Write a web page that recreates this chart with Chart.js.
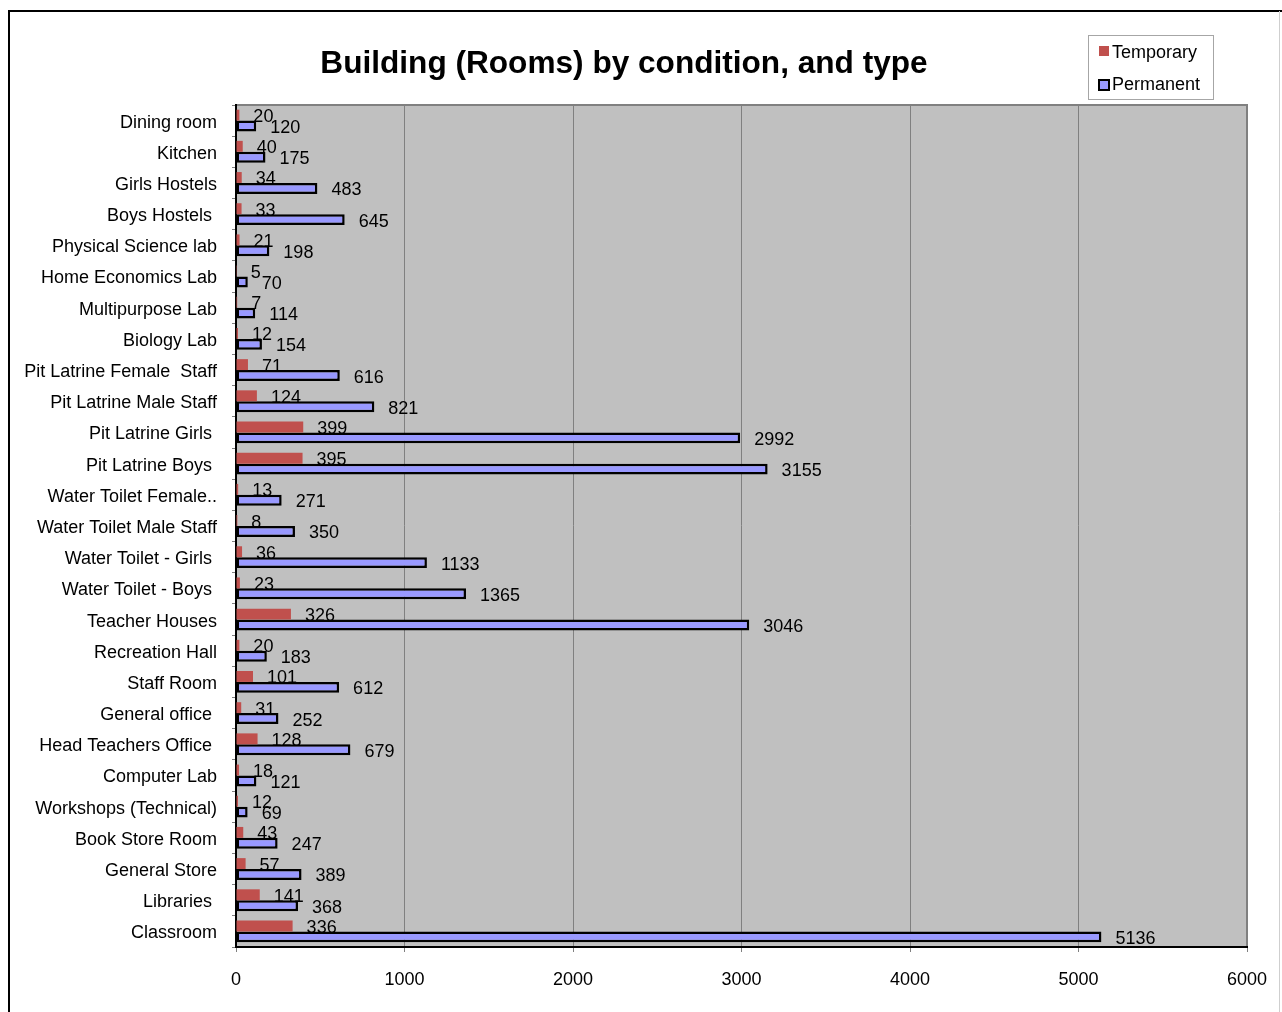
<!DOCTYPE html>
<html>
<head>
<meta charset="utf-8">
<script src="https://cdn.jsdelivr.net/npm/chart.js@4/dist/chart.umd.min.js"></script>
<style>
  body { margin: 0; background: #fff; }
  canvas { display: block; }
</style>
</head>
<body>
<canvas id="rooms-chart" width="1282" height="1012"></canvas>
<script>
const rooms = [
    'Dining room', 'Kitchen', 'Girls Hostels', 'Boys Hostels ', 'Physical Science lab',
    'Home Economics Lab', 'Multipurpose Lab', 'Biology Lab', 'Pit Latrine Female  Staff',
    'Pit Latrine Male Staff', 'Pit Latrine Girls ', 'Pit Latrine Boys ', 'Water Toilet Female..',
    'Water Toilet Male Staff', 'Water Toilet - Girls ', 'Water Toilet - Boys ', 'Teacher Houses',
    'Recreation Hall', 'Staff Room', 'General office ', 'Head Teachers Office ', 'Computer Lab',
    'Workshops (Technical)', 'Book Store Room', 'General Store', 'Libraries ', 'Classroom'
];
const temporary = [20, 40, 34, 33, 21, 5, 7, 12, 71, 124, 399, 395, 13, 8, 36, 23, 326, 20, 101, 31, 128, 18, 12, 43, 57, 141, 336];
const permanent = [120, 175, 483, 645, 198, 70, 114, 154, 616, 821, 2992, 3155, 271, 350, 1133, 1365, 3046, 183, 612, 252, 679, 121, 69, 247, 389, 368, 5136];
const xTicks = [0, 1000, 2000, 3000, 4000, 5000, 6000];

const FONT = '"Liberation Sans", Arial, sans-serif';

// grey plot area with its grey top/right frame, plus the outer chart frame
const frame = {
    id: 'frame',
    beforeDraw(chart) {
        const { ctx, chartArea: a } = chart;
        ctx.save();
        ctx.fillStyle = '#c0c0c0';
        ctx.fillRect(a.left, a.top, a.right - a.left, a.bottom - a.top);
        ctx.strokeStyle = '#808080';
        ctx.lineWidth = 2;
        ctx.beginPath();
        ctx.moveTo(a.left, a.top);
        ctx.lineTo(a.right, a.top);
        ctx.lineTo(a.right, a.bottom);
        ctx.stroke();
        ctx.strokeStyle = '#000';
        ctx.beginPath();
        ctx.moveTo(9, chart.height);
        ctx.lineTo(9, 11);
        ctx.lineTo(chart.width, 11);
        ctx.stroke();
        ctx.strokeStyle = '#cfcfcf';
        ctx.lineWidth = 1;
        ctx.beginPath();
        ctx.moveTo(1279.5, 11);
        ctx.lineTo(1279.5, chart.height);
        ctx.stroke();
        ctx.restore();
    }
};

// value labels just past the end of each bar
const barValues = {
    id: 'barValues',
    afterDatasetsDraw(chart) {
        const { ctx } = chart;
        ctx.save();
        ctx.font = '18px ' + FONT;
        ctx.fillStyle = '#000';
        ctx.textAlign = 'left';
        ctx.textBaseline = 'middle';
        chart.data.datasets.forEach((ds, i) => {
            chart.getDatasetMeta(i).data.forEach((bar, j) => {
                ctx.fillText(String(ds.data[j]), bar.x + 14, bar.y + 2);
            });
        });
        ctx.restore();
    }
};

// title and boxed legend in the top area
const header = {
    id: 'header',
    afterDraw(chart) {
        const { ctx } = chart;
        ctx.save();
        ctx.fillStyle = '#000';
        ctx.font = 'bold 31.6px ' + FONT;
        ctx.textAlign = 'center';
        ctx.textBaseline = 'middle';
        ctx.fillText('Building (Rooms) by condition, and type', 624, 64);

        ctx.fillStyle = '#fff';
        ctx.fillRect(1088, 35, 125, 64);
        ctx.strokeStyle = '#a6a6a6';
        ctx.lineWidth = 1;
        ctx.strokeRect(1088.5, 35.5, 125, 64);

        ctx.font = '18px ' + FONT;
        ctx.textAlign = 'left';
        chart.data.datasets.forEach((ds, i) => {
            const y = 53 + i * 32;
            if (ds.borderWidth) {
                ctx.fillStyle = ds.borderColor;
                ctx.fillRect(1098, y - 6, 12, 12);
                ctx.fillStyle = ds.backgroundColor;
                ctx.fillRect(1100, y - 4, 8, 8);
            } else {
                ctx.fillStyle = ds.backgroundColor;
                ctx.fillRect(1099, y - 7, 10, 10);
            }
            ctx.fillStyle = '#000';
            ctx.fillText(ds.label, 1112, y);
        });
        ctx.restore();
    }
};

new Chart(document.getElementById('rooms-chart'), {
    type: 'bar',
    data: {
        labels: rooms,
        datasets: [{
            label: 'Temporary',
            data: temporary,
            backgroundColor: '#c0504d',
            borderWidth: 0,
            categoryPercentage: 0.7,
            barPercentage: 1
        }, {
            label: 'Permanent',
            data: permanent,
            backgroundColor: '#9999ff',
            borderColor: '#000',
            borderWidth: 2.5,
            borderSkipped: false,
            categoryPercentage: 0.7,
            barPercentage: 1
        }]
    },
    options: {
        indexAxis: 'y',
        responsive: false,
        animation: false,
        layout: { padding: { top: 105, right: 35, bottom: 0, left: 0 } },
        plugins: {
            legend: { display: false },
            tooltip: { enabled: false }
        },
        scales: {
            x: {
                min: 0,
                max: 6000,
                afterBuildTicks(scale) {
                    scale.ticks = xTicks.map(v => ({ value: v }));
                },
                afterFit(scale) {
                    scale.height = 65;
                    scale.paddingLeft = 0;
                    scale.paddingRight = 0;
                },
                grid: { color: '#808080', tickColor: '#808080', tickLength: 5, lineWidth: 1 },
                border: { color: '#000', width: 2 },
                ticks: {
                    color: '#000',
                    font: { family: FONT, size: 18 },
                    padding: 17,
                    maxRotation: 0,
                    callback: v => String(v)
                }
            },
            y: {
                afterFit(scale) {
                    scale.width = 236;
                    scale.paddingTop = 0;
                    scale.paddingBottom = 0;
                },
                grid: { drawOnChartArea: false, color: '#808080', tickLength: 4 },
                border: { color: '#000', width: 2 },
                ticks: { color: '#000', font: { family: FONT, size: 18 }, padding: 15, autoSkip: false, labelOffset: 2 }
            }
        }
    },
    plugins: [frame, barValues, header]
});
</script>
</body>
</html>
